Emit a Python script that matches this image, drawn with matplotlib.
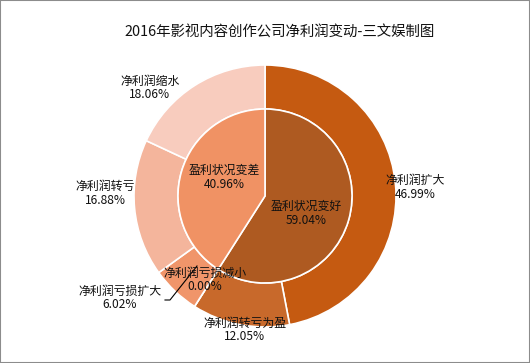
import matplotlib
matplotlib.use("Agg")
import matplotlib.pyplot as plt
import numpy as np

plt.rcParams['font.family'] = ['Noto Sans CJK SC', 'DejaVu Sans']

title = "2016年影视内容创作公司净利润变动-三文娱制图"
inner_labels = ["盈利状况变好", "盈利状况变差"]
inner_values = [59.04, 40.96]
outer_labels = ["净利润扩大", "净利润转亏为盈", "净利润亏损减小", "净利润亏损扩大", "净利润转亏", "净利润缩水"]
outer_values = [46.99, 12.05, 0.00, 6.02, 16.88, 18.06]

inner_colors = ["#AE5A21", "#F09264"]
outer_colors = ["#C55A11", "#C8692B", "#E8845A", "#F0956A", "#F4B59C", "#F8CCBE"]

W, H = 530, 363
fig = plt.figure(figsize=(W / 100, H / 100), dpi=100)
ax = fig.add_axes([0, 0, 1, 1])
ax.set_xlim(0, W)
ax.set_ylim(0, H)
ax.set_aspect('equal')
ax.axis('off')

cx, cy = 265, H - 196
R_out, R_in = 131, 87

ax.pie(outer_values, radius=R_out, center=(cx, cy), startangle=90, counterclock=False,
       colors=outer_colors, wedgeprops=dict(width=R_out - R_in, edgecolor='white', linewidth=1.2))
ax.pie(inner_values, radius=R_in, center=(cx, cy), startangle=90, counterclock=False,
       colors=inner_colors, wedgeprops=dict(edgecolor='white', linewidth=1.2))
ax.set_xlim(0, W)
ax.set_ylim(0, H)

fs = 8.6
# outer label positions (pixel coords, y from top)
outer_pos = [(415, 187), (245, 330), (205, 280), (120, 298), (105, 193), (150, 88)]
for lab, val, (px, py) in zip(outer_labels, outer_values, outer_pos):
    ax.text(px, H - py, f"{lab}\n{val:.2f}%", ha='center', va='center', fontsize=fs,
            linespacing=1.1, color='#111111')
inner_pos = [(306, 213), (224, 177)]
for lab, val, (px, py) in zip(inner_labels, inner_values, inner_pos):
    ax.text(px, H - py, f"{lab}\n{val:.2f}%", ha='center', va='center', fontsize=fs,
            linespacing=1.1, color='#111111')

# leader line for 亏损扩大
ax.plot([165, 170, 197], [H - 300, H - 300, H - 266], color='black', lw=0.8)

ax.text(280, H - 33, title, ha='center', va='center', fontsize=10.4, color='#111111')

# border
fig.patches.append(plt.Rectangle((0, 0), 1, 1, transform=fig.transFigure, fill=False,
                                 edgecolor='#8c8c8c', linewidth=1.5))
fig.savefig("out.png", dpi=100)
